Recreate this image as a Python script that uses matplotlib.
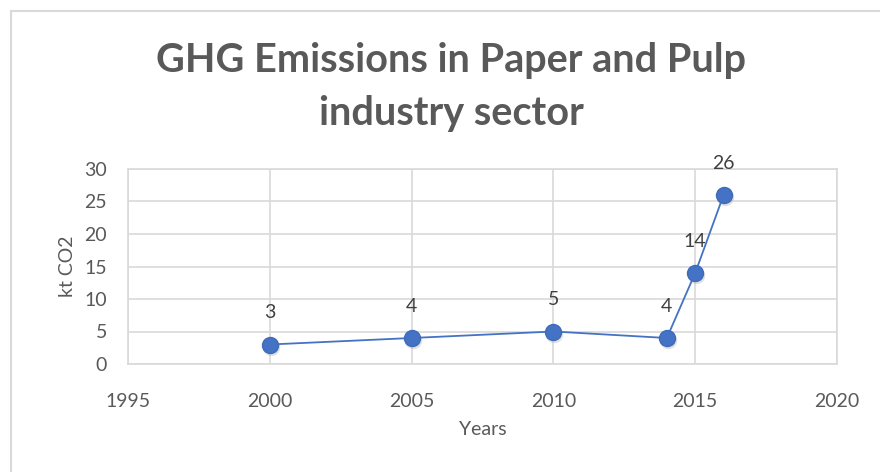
import matplotlib
matplotlib.use("Agg")
from matplotlib import pyplot as plt
from matplotlib.patches import Rectangle

years = [2000, 2005, 2010, 2014, 2015, 2016]
emissions = [3, 4, 5, 4, 14, 26]
x_ticks = [1995, 2000, 2005, 2010, 2015, 2020]
y_ticks = [0, 5, 10, 15, 20, 25, 30]

plt.rcParams['font.family'] = ['Lato', 'DejaVu Sans']

W, H = 880, 472
fig = plt.figure(figsize=(W / 100, H / 100), dpi=100)

# outer chart border (cut off at right/bottom like the screenshot)
fig.patches.append(Rectangle((11 / W, -0.1), 1.2, (H - 11) / H + 0.1,
                             transform=fig.transFigure, fill=False,
                             edgecolor='#D9D9D9', linewidth=1.5))

ax = fig.add_axes([128 / W, 1 - 364 / H, (837 - 128) / W, (364 - 169) / H])
grey = '#D9D9D9'
ax.set_xlim(1995, 2020)
ax.set_ylim(0, 30)
ax.set_xticks(x_ticks)
ax.set_yticks(y_ticks)
ax.grid(True, color=grey, linewidth=1.2)
ax.set_axisbelow(True)
for s in ax.spines.values():
    s.set_color(grey)
    s.set_linewidth(1.2)
ax.tick_params(length=0, labelsize=14, colors='#595959')
ax.tick_params(axis='x', pad=21)
ax.tick_params(axis='y', pad=15)

# marker shadow
ax.plot(years, emissions, linestyle='none', marker='o', markersize=12.5,
        markerfacecolor='#BBBBBB', markeredgecolor='none', alpha=0.45,
        transform=ax.transData + matplotlib.transforms.ScaledTranslation(1 / 100, -2 / 100, fig.dpi_scale_trans))
ax.plot(years, emissions, color='#4472C4', linewidth=1.3, marker='o',
        markersize=11.5, markerfacecolor='#4472C4', markeredgecolor='#3F6BBA')

for x, y in zip(years, emissions):
    ax.annotate(str(y), (x, y), xytext=(0, 23), textcoords='offset points',
                ha='center', va='center', fontsize=14, color='#404040')

ax.set_ylabel('kt CO2', fontsize=14, color='#595959', labelpad=6)
ax.set_xlabel('Years', fontsize=14, color='#595959', labelpad=8)

fig.text(451 / W, 1 - 87 / H, 'GHG Emissions in Paper and Pulp\nindustry sector',
         ha='center', va='center', fontsize=28.5, fontweight='bold',
         color='#595959', linespacing=1.55)

fig.savefig('out.png', dpi=100)
